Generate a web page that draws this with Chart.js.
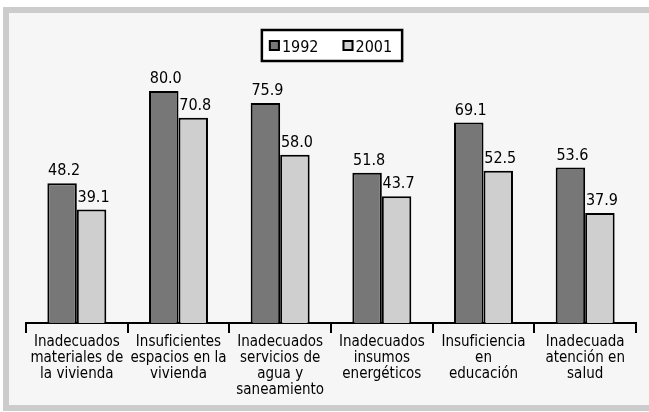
<!DOCTYPE html>
<html lang="es">
<head>
  <meta charset="UTF-8" />
  <title>Necesidades básicas insatisfechas 1992 - 2001</title>
  <script src="https://cdn.jsdelivr.net/npm/chart.js"></script>
  <style>
    body {
      margin: 0;
      background: #ffffff;
      overflow: hidden;
      width: 649px;
      height: 412px;
    }

    #frame {
      position: absolute;
      left: 3px;
      top: 7px;
      width: 660px;
      height: 392px;
      border: 6px solid #cccccc;
      background: #f6f6f6;
    }

    #wrap {
      position: absolute;
      left: 0;
      top: 0;
      width: 640px;
      height: 392px;
    }
  </style>
</head>
<body>

  <div id="frame">
    <div id="wrap">
      <canvas id="nbiChart" width="640" height="392"></canvas>
    </div>
  </div>

  <script>
    const categories = [
      ['Inadecuados', 'materiales de', 'la vivienda'],
      ['Insuficientes', 'espacios en la', 'vivienda'],
      ['Inadecuados', 'servicios de', 'agua y', 'saneamiento'],
      ['Inadecuados', 'insumos', 'energéticos'],
      ['Insuficiencia', 'en', 'educación'],
      ['Inadecuada', 'atención en', 'salud']
    ];
    const seriesNames = ['1992', '2001'];
    const values1992 = [48.2, 80.0, 75.9, 51.8, 69.1, 53.6];
    const values2001 = [39.1, 70.8, 58.0, 43.7, 52.5, 37.9];

    const FONT = "'Liberation Sans Narrow', 'Arial Narrow', 'DejaVu Sans Condensed', sans-serif";
    const TICK_SIZE = 15;
    const VALUE_SIZE = 16;

    // value labels above each bar
    const valueLabels = {
      id: 'valueLabels',
      afterDatasetsDraw(chart) {
        const ctx = chart.ctx;
        ctx.save();
        ctx.font = VALUE_SIZE + 'px ' + FONT;
        ctx.fillStyle = '#000';
        ctx.textAlign = 'center';
        ctx.textBaseline = 'alphabetic';
        chart.data.datasets.forEach((ds, i) => {
          chart.getDatasetMeta(i).data.forEach((bar, j) => {
            ctx.fillText(ds.data[j].toFixed(1), bar.x + 2, bar.y - 8);
          });
        });
        ctx.restore();
      }
    };

    // boxed legend in the top centre
    const boxLegend = {
      id: 'boxLegend',
      afterDraw(chart) {
        const ctx = chart.ctx;
        const area = chart.chartArea;
        ctx.save();
        ctx.font = VALUE_SIZE + 'px ' + FONT;
        const sw = 11, gapText = 2, gapItem = 24, padL = 7, padR = 10;
        const widths = chart.data.datasets.map(ds => sw + gapText + ctx.measureText(ds.label).width);
        const inner = widths.reduce((a, b) => a + b, 0) + gapItem * (widths.length - 1);
        const boxW = inner + padL + padR;
        const left = (area.left + area.right) / 2 - boxW / 2 + 1;
        const top = 17, boxH = 31;

        ctx.lineWidth = 2.5;
        ctx.strokeStyle = '#000';
        ctx.fillStyle = '#ffffff';
        ctx.fillRect(left, top, boxW, boxH);
        ctx.strokeRect(left, top, boxW, boxH);

        let x = left + padL;
        chart.data.datasets.forEach((ds, i) => {
          ctx.fillStyle = ds.backgroundColor;
          ctx.fillRect(x, 27, sw, sw);
          ctx.lineWidth = 2;
          ctx.strokeRect(x + 1, 28, sw - 2, sw - 2);
          ctx.fillStyle = '#000';
          ctx.textAlign = 'left';
          ctx.textBaseline = 'alphabetic';
          ctx.fillText(ds.label, x + sw + gapText, 39);
          x += widths[i] + gapItem;
        });
        ctx.restore();
      }
    };

    new Chart(document.getElementById('nbiChart'), {
      type: 'bar',
      data: {
        labels: categories,
        datasets: [
          {
            label: seriesNames[0],
            data: values1992,
            backgroundColor: '#777777',
            borderColor: '#000000',
            borderWidth: 2,
            categoryPercentage: 0.58,
            barPercentage: 1
          },
          {
            label: seriesNames[1],
            data: values2001,
            backgroundColor: '#cfcfcf',
            borderColor: '#000000',
            borderWidth: 2,
            categoryPercentage: 0.58,
            barPercentage: 1
          }
        ]
      },
      options: {
        responsive: false,
        animation: false,
        layout: { padding: { left: 17, right: 13, top: 20, bottom: 0 } },
        plugins: {
          legend: { display: false },
          tooltip: { enabled: false }
        },
        scales: {
          x: {
            grid: {
              offset: true,
              drawOnChartArea: false,
              drawTicks: true,
              tickLength: 10,
              color: '#000',
              lineWidth: 2
            },
            border: { color: '#000', width: 2 },
            ticks: {
              color: '#000',
              padding: 1,
              maxRotation: 0,
              autoSkip: false,
              font: { family: FONT, size: TICK_SIZE, lineHeight: 16 / TICK_SIZE }
            },
            afterFit(scale) { scale.height = 82; }
          },
          y: {
            display: false,
            min: 0,
            max: 100
          }
        }
      },
      plugins: [valueLabels, boxLegend]
    });
  </script>
</body>
</html>
